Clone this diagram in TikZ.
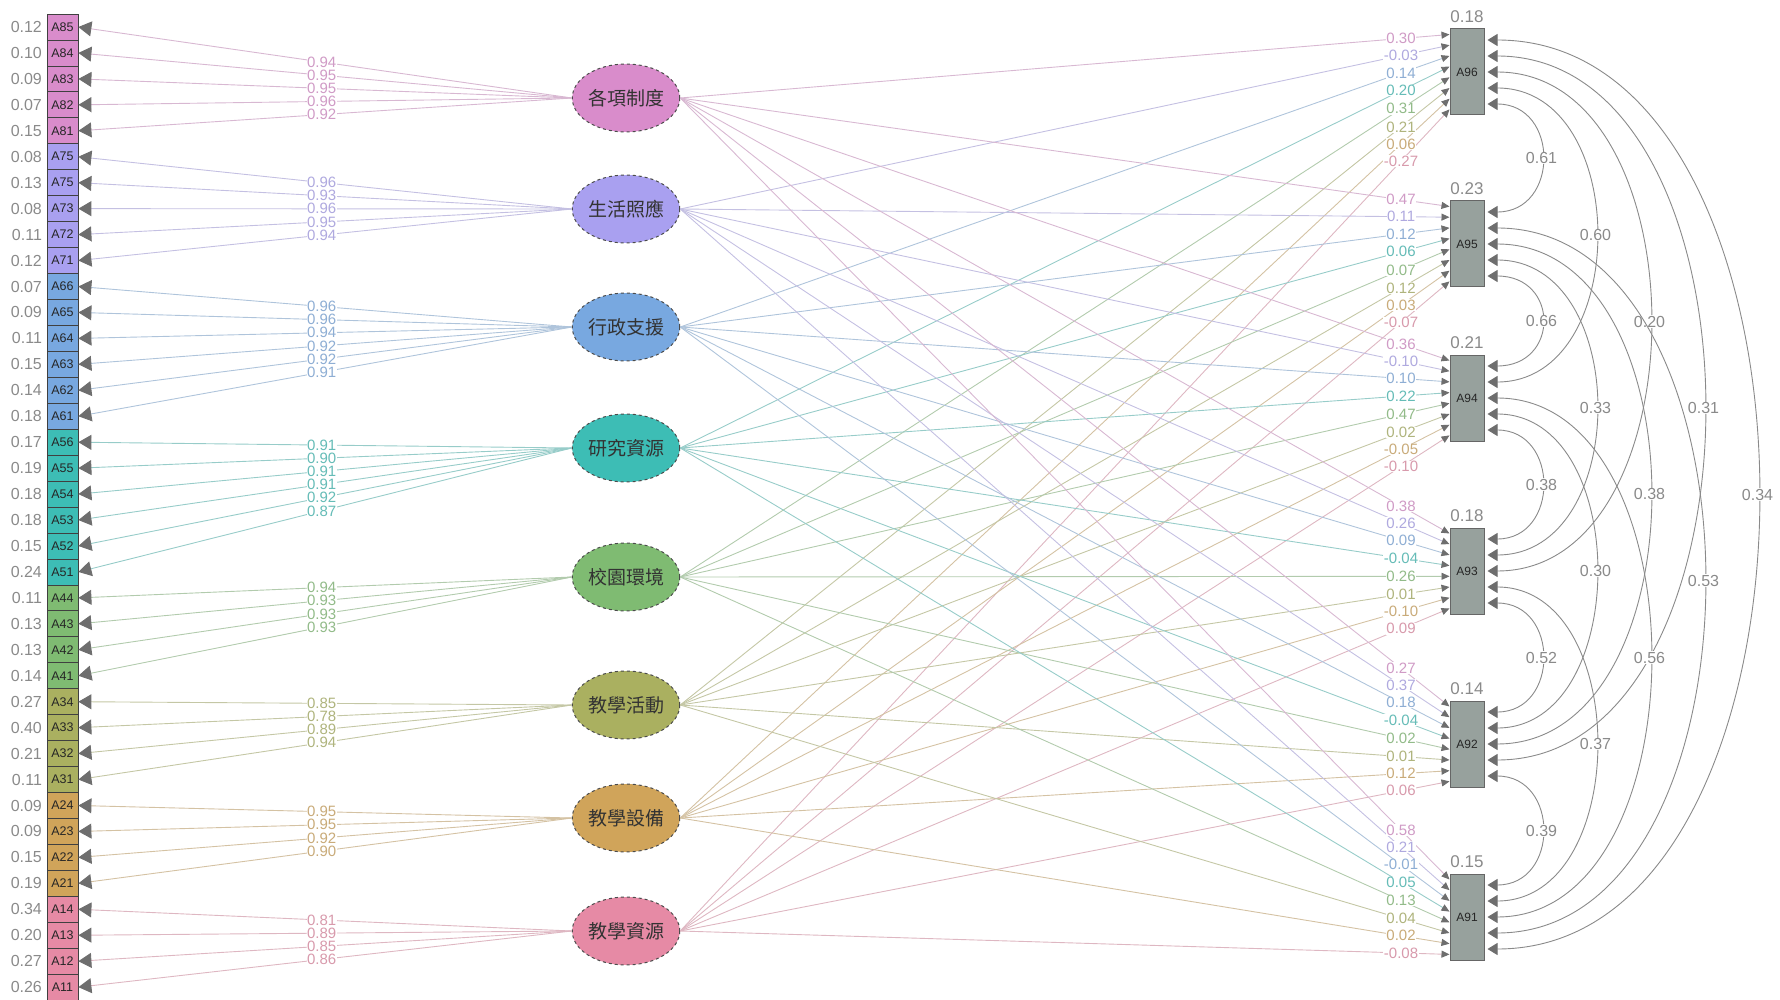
\documentclass[tikz,border=0pt]{standalone}
\usepackage{fontspec}
\setmainfont{Liberation Sans}
\newfontfamily\cjk{Noto Sans CJK TC}
\usepackage{tikz}
\usetikzlibrary{calc,arrows.meta,shapes.geometric,positioning}
\definecolor{c8}{HTML}{D98CCB}
\definecolor{c7}{HTML}{A9A0F0}
\definecolor{c6}{HTML}{78A8E0}
\definecolor{c5}{HTML}{3DBDB5}
\definecolor{c4}{HTML}{7FBB72}
\definecolor{c3}{HTML}{AAB060}
\definecolor{c2}{HTML}{D0A45A}
\definecolor{c1}{HTML}{E68AA5}
\definecolor{tipgrey}{HTML}{6E6E6E}
\definecolor{boxgrey}{HTML}{97A19D}
\definecolor{numgrey}{HTML}{8A8A8A}

\begin{document}
\begin{tikzpicture}[x=1pt,y=-1pt]

\tikzset{indnode/.style={draw=black!75,line width=0.8pt,minimum width=31pt,minimum height=25.95pt,inner sep=0pt,font=\fontsize{12.5}{12}\selectfont,text=black!85},
factor/.style={ellipse,draw=black!70,dashed,line width=1pt,minimum width=103pt,minimum height=68pt,inner sep=0pt,font=\cjk\fontsize{19}{20}\selectfont,text=black!80},
outnode/.style={draw=black!60,fill=boxgrey,line width=1pt,minimum width=34pt,minimum height=86pt,inner sep=0pt,font=\fontsize{12}{12}\selectfont,text=black!85},
numlbl/.style={font=\fontsize{16}{16}\selectfont,inner sep=0.5pt,text=numgrey},
loadlbl/.style={font=\fontsize{15}{15}\selectfont,inner sep=0.5pt,fill=white},
load/.style={line width=0.9pt,-{Triangle[length=13pt,width=15pt,color=tipgrey]}},
regline/.style={line width=0.9pt,-{Triangle[length=8pt,width=7pt,color=tipgrey]}},
cov/.style={draw=numgrey,line width=0.9pt,{Triangle[length=10pt,width=12pt,color=tipgrey]}-{Triangle[length=10pt,width=12pt,color=tipgrey]}}}

\useasboundingbox (0,0) rectangle (1780,1000);

% Factor nodes
\node[factor,fill=c8] (F8) at (626,98) {各項制度};
\node[factor,fill=c7] (F7) at (626,209) {生活照應};
\node[factor,fill=c6] (F6) at (626,327) {行政支援};
\node[factor,fill=c5] (F5) at (626,448) {研究資源};
\node[factor,fill=c4] (F4) at (626,577) {校園環境};
\node[factor,fill=c3] (F3) at (626,705) {教學活動};
\node[factor,fill=c2] (F2) at (626,818) {教學設備};
\node[factor,fill=c1] (F1) at (626,931) {教學資源};

% Left indicator nodes, residuals and loadings
\foreach \name/\res/\load/\g [count=\i from 0] in {A85/0.12/0.94/8, A84/0.10/0.95/8, A83/0.09/0.95/8, A82/0.07/0.96/8, A81/0.15/0.92/8,
A75/0.08/0.96/7, A75/0.13/0.93/7, A73/0.08/0.96/7, A72/0.11/0.95/7, A71/0.12/0.94/7,
A66/0.07/0.96/6, A65/0.09/0.96/6, A64/0.11/0.94/6, A63/0.15/0.92/6, A62/0.14/0.92/6, A61/0.18/0.91/6,
A56/0.17/0.91/5, A55/0.19/0.90/5, A54/0.18/0.91/5, A53/0.18/0.91/5, A52/0.15/0.92/5, A51/0.24/0.87/5,
A44/0.11/0.94/4, A43/0.13/0.93/4, A42/0.13/0.93/4, A41/0.14/0.93/4,
A34/0.27/0.85/3, A33/0.40/0.78/3, A32/0.21/0.89/3, A31/0.11/0.94/3,
A24/0.09/0.95/2, A23/0.09/0.95/2, A22/0.15/0.92/2, A21/0.19/0.90/2,
A14/0.34/0.81/1, A13/0.20/0.89/1, A12/0.27/0.85/1, A11/0.26/0.86/1} {
  \node[indnode,fill=c\g] (L\i) at (62.5,{27+25.95*\i}) {\name};
  \node[numlbl,anchor=east] (r\i) at ($(L\i.west)+(-4,0)$) {\res};
  \draw[load,draw=c\g!70!gray!60!white] (F\g.west) -- node[loadlbl,pos=0.507,text=c\g!80!gray!85!white] {\load} (L\i.east);
}

% Right outcome nodes
\foreach \name/\r/\y [count=\j] in {A96/0.18/72, A95/0.23/244, A94/0.21/398, A93/0.18/571, A92/0.14/744, A91/0.15/917} {
  \node[outnode] (R\j) at (1467,\y) {\name};
  \node[numlbl,font=\fontsize{17}{17}\selectfont] (t\j) at ($(R\j.north)+(0,-12)$) {\r};
}

% Regressions
\def\outdata{1/{0.30,-0.03,0.14,0.20,0.31,0.21,0.06,-0.27}, 2/{0.47,0.11,0.12,0.06,0.07,0.12,0.03,-0.07},
3/{0.36,-0.10,0.10,0.22,0.47,0.02,-0.05,-0.10}, 4/{0.38,0.26,0.09,-0.04,0.26,0.01,-0.10,0.09},
5/{0.27,0.37,0.18,-0.04,0.02,0.01,0.12,0.06}, 6/{0.58,0.21,-0.01,0.05,0.13,0.04,0.02,-0.08}}
\foreach \j/\vals in \outdata {
  \foreach \val [count=\k] in \vals {
    \pgfmathtruncatemacro\g{9-\k}
    \draw[regline,draw=c\g!70!gray!60!white] (F\g.east) -- ($(R\j.west)+(0,{-37.5+10.7*(\k-1)})$);
  }
}
\foreach \j/\vals in \outdata {
  \foreach \val [count=\k] in \vals {
    \pgfmathtruncatemacro\g{9-\k}
    \path (F\g.east) -- node[loadlbl,pos=0.937,text=c\g!80!gray!85!white] {\val} ($(R\j.west)+(0,{-37.5+10.7*(\k-1)})$);
  }
}

% Residual covariances
\foreach \i/\j/\lab in {1/2/0.61, 1/3/0.60, 1/4/0.20, 1/5/0.31, 1/6/0.34, 2/3/0.66, 2/4/0.33, 2/5/0.38, 2/6/0.53, 3/4/0.38, 3/5/0.30, 3/6/0.56, 4/5/0.52, 4/6/0.37, 5/6/0.39} {
  \pgfmathsetmacro\sa{-32+16*(\i+5-\j)}
  \pgfmathsetmacro\sb{-32+16*(\j-1-\i)}
  \pgfmathsetmacro\bend{72*(\j-\i)}
  \draw[cov] ($(R\i.east)+(3,\sa)$) .. controls +(\bend,0) and +(\bend,0) .. node[numlbl,fill=white] {\lab} ($(R\j.east)+(3,\sb)$);
}

\end{tikzpicture}
\end{document}
